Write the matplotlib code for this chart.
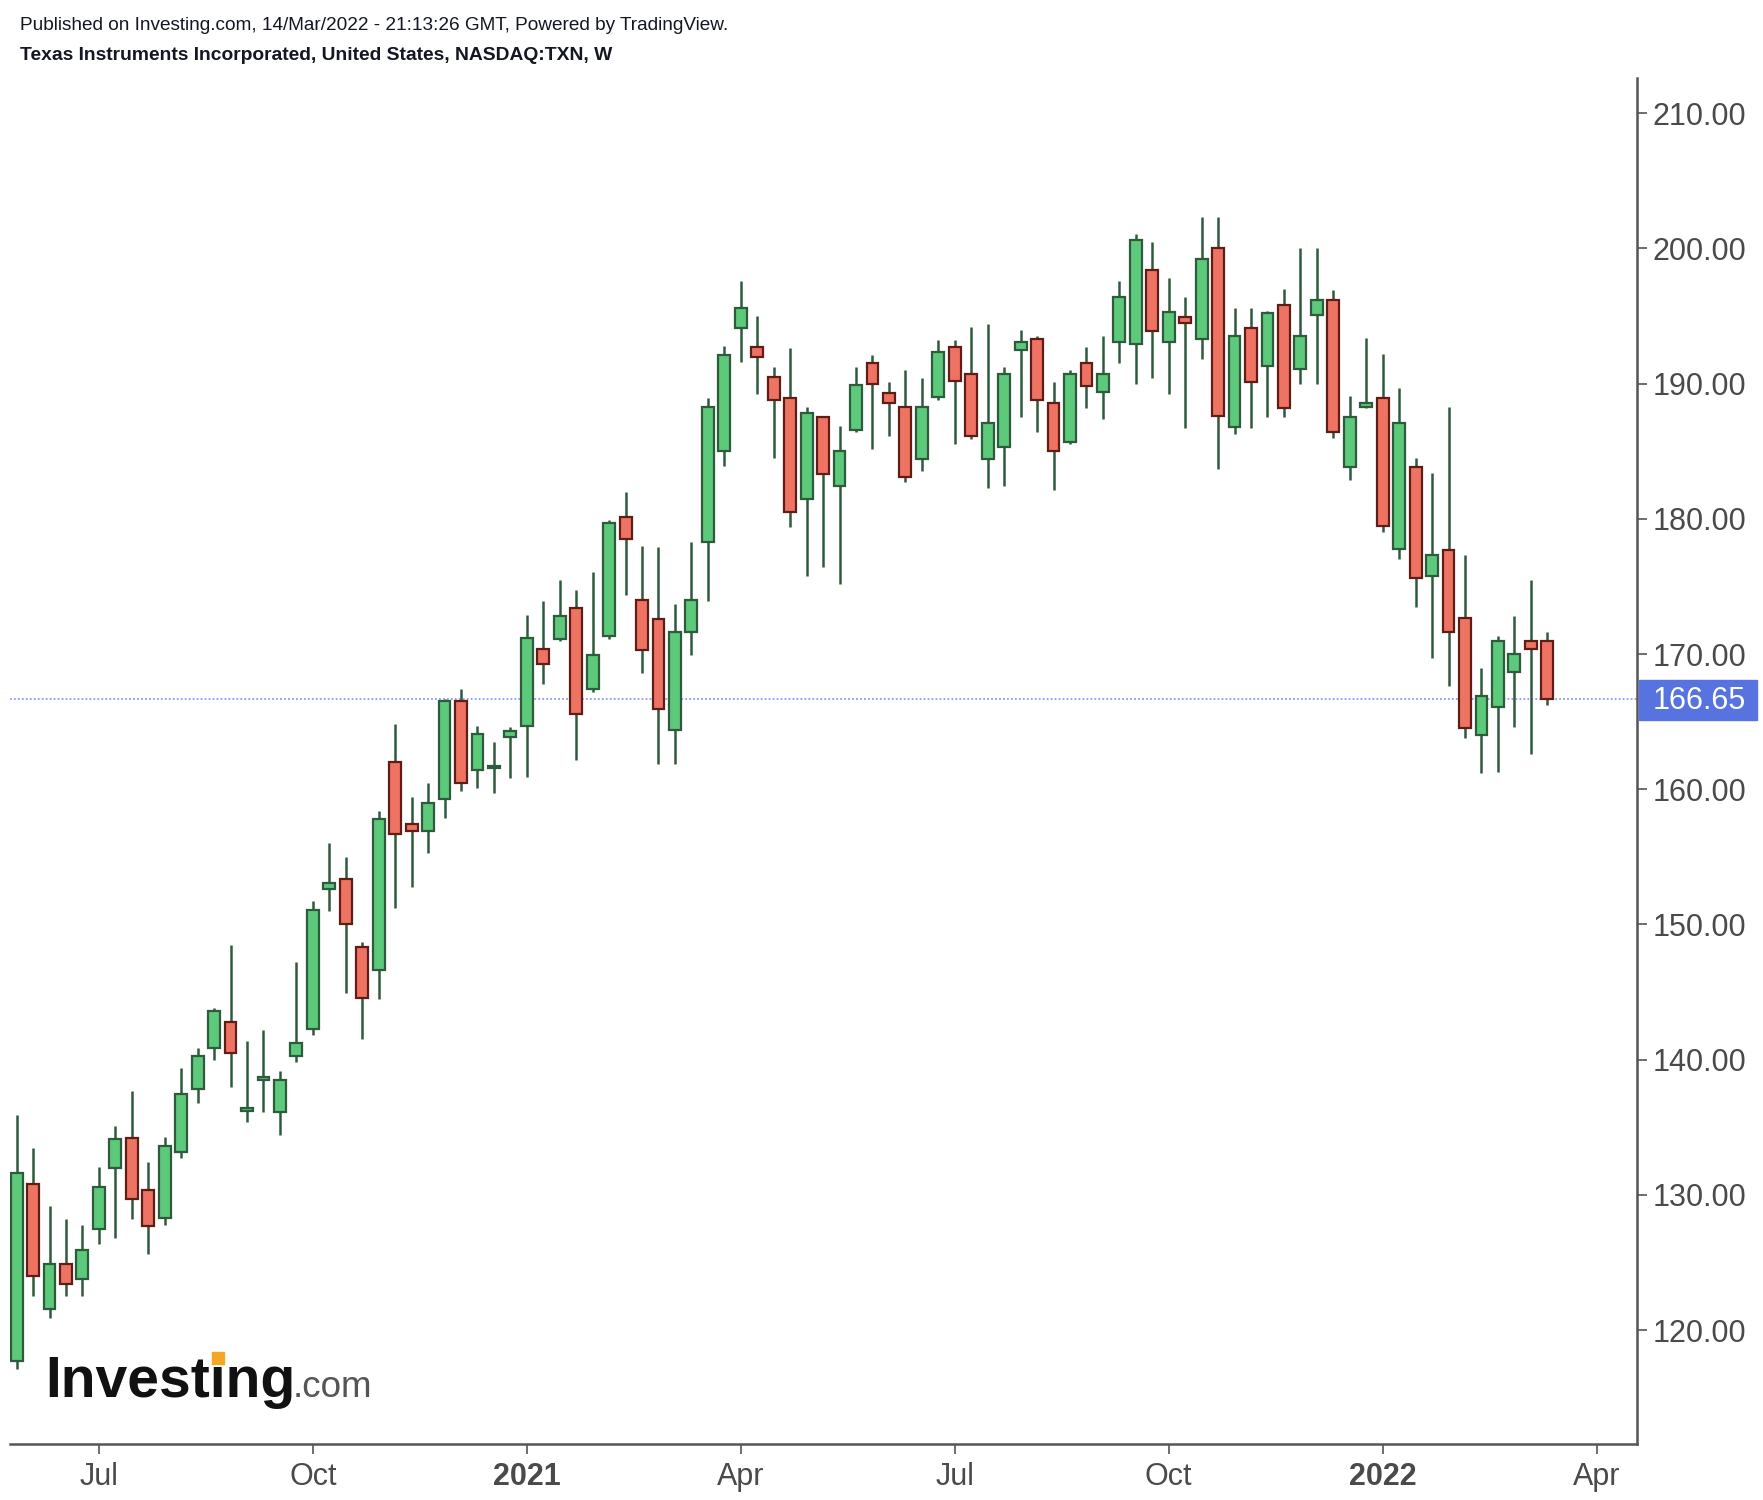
import matplotlib.pyplot as plt
import matplotlib.transforms as mtransforms
from matplotlib.patches import Rectangle
import numpy as np
import pandas as pd

plt.rcParams['font.family'] = ['Liberation Sans', 'DejaVu Sans']

# weekly bars of TXN, first bar = week of 1 Jun 2020
first_week = "2020-06-01"

opens = [117.7, 130.8, 121.6, 124.9, 123.8, 127.5, 132.0, 134.2, 130.4, 128.3,
         133.2, 137.8, 140.9, 142.8, 136.2, 138.5, 136.1, 140.3, 142.3, 152.6,
         153.4, 148.3, 146.6, 162.0, 157.4, 156.9, 159.3, 166.5, 161.4, 161.6,
         163.9, 164.7, 170.4, 171.1, 173.4, 167.4, 171.3, 180.1, 174.0, 172.6,
         164.4, 171.6, 178.3, 185.0, 194.1, 192.7, 190.5, 188.9, 181.5, 187.5,
         182.4, 186.6, 191.5, 189.3, 188.3, 184.4, 189.0, 192.7, 190.7, 184.4,
         185.3, 192.5, 193.3, 188.6, 185.7, 191.5, 189.4, 193.1, 192.9, 198.4,
         193.1, 194.9, 193.3, 200.0, 186.8, 194.1, 191.3, 195.8, 191.1, 195.1,
         196.2, 183.8, 188.3, 188.9, 177.8, 183.8, 175.8, 177.7, 172.7, 164.0,
         166.1, 168.7, 171.0, 171.0]
highs = [135.9, 133.5, 129.2, 128.2, 127.8, 132.1, 135.1, 137.7, 132.4, 134.3,
         139.4, 140.9, 143.8, 148.5, 141.4, 142.2, 139.2, 147.2, 151.7, 156.0,
         155.0, 148.7, 158.4, 164.8, 159.4, 160.5, 166.7, 167.4, 164.7, 163.5,
         164.6, 172.9, 173.9, 175.5, 174.7, 176.1, 179.9, 182.0, 178.0, 177.9,
         173.7, 178.3, 188.9, 192.8, 197.6, 195.0, 191.2, 192.6, 188.3, 187.6,
         186.9, 191.2, 192.1, 190.1, 191.0, 190.4, 193.2, 193.2, 194.2, 194.4,
         191.2, 194.0, 193.5, 190.1, 191.0, 192.7, 193.5, 197.6, 201.1, 200.5,
         197.8, 196.4, 202.3, 202.3, 195.6, 195.6, 195.4, 197.0, 200.0, 200.0,
         196.9, 189.1, 193.4, 192.2, 189.7, 184.5, 183.4, 188.3, 177.3, 169.0,
         171.3, 172.8, 175.5, 171.6]
lows = [117.1, 122.5, 120.9, 122.5, 122.5, 126.4, 126.8, 128.2, 125.6, 127.8,
        132.7, 136.8, 140.0, 138.0, 135.4, 136.1, 134.4, 139.8, 141.8, 151.0,
        144.9, 141.5, 144.5, 151.2, 152.8, 155.3, 157.9, 159.9, 160.1, 159.7,
        160.8, 160.9, 167.8, 171.0, 162.2, 167.2, 171.1, 174.4, 168.6, 161.9,
        161.9, 169.9, 173.9, 183.9, 191.6, 189.2, 184.5, 179.4, 175.8, 176.4,
        175.2, 186.4, 185.2, 186.1, 182.7, 183.5, 188.8, 185.5, 185.9, 182.3,
        182.4, 187.5, 186.4, 182.1, 185.5, 188.2, 187.4, 191.5, 190.0, 190.4,
        189.2, 186.7, 191.8, 183.7, 186.3, 186.7, 187.5, 187.5, 190.0, 190.0,
        186.0, 182.9, 188.2, 179.0, 177.0, 173.5, 169.7, 167.6, 163.8, 161.2,
        161.3, 164.6, 162.6, 166.2]
closes = [131.6, 124.0, 124.9, 123.4, 125.9, 130.6, 134.1, 129.7, 127.7, 133.6,
          137.5, 140.3, 143.6, 140.5, 136.4, 138.7, 138.5, 141.2, 151.1, 153.1,
          150.0, 144.6, 157.8, 156.7, 156.9, 159.0, 166.5, 160.5, 164.1, 161.7,
          164.3, 171.2, 169.3, 172.8, 165.6, 169.9, 179.7, 178.5, 170.3, 165.9,
          171.6, 174.0, 188.3, 192.1, 195.6, 192.0, 188.8, 180.5, 187.8, 183.3,
          185.0, 189.9, 190.0, 188.6, 183.1, 188.3, 192.3, 190.2, 186.1, 187.1,
          190.7, 193.1, 188.8, 185.0, 190.7, 189.8, 190.7, 196.4, 200.6, 193.9,
          195.3, 194.5, 199.2, 187.6, 193.5, 190.1, 195.2, 188.2, 193.5, 196.2,
          186.4, 187.5, 188.6, 179.5, 187.1, 175.6, 177.3, 171.6, 164.5, 166.9,
          171.0, 170.0, 170.4, 166.65]

last_price = 166.65
price_ticks = [120, 130, 140, 150, 160, 170, 180, 190, 200, 210]

W, H = 1763, 1500
green_fill = "#5cc97b"
red_fill = "#ef7363"
wick_col = "#2f5b3d"
red_edge = "#5e1d17"

o = np.array(opens)
c = np.array(closes)
n = len(o)
x = np.arange(n)
up = c >= o

# weekly dates, a few extra weeks to label the empty space on the right
dates = pd.date_range(first_week, periods=n + 6, freq="W-MON")
tick_pos, tick_lab = [], []
for i in range(1, len(dates)):
    d = dates[i]
    if d.month != dates[i - 1].month and d.month in (1, 4, 7, 10):
        tick_pos.append(i)
        tick_lab.append(str(d.year) if d.month == 1 else d.strftime("%b"))

fig = plt.figure(figsize=(W / 100, H / 100), dpi=100)
ax = fig.add_axes([10 / W, 1 - 1444 / H, 1627 / W, 1366 / H])

# wicks then bodies
ax.vlines(x, lows, highs, color=wick_col, lw=1.8, zorder=2)
body_bottom = np.minimum(o, c)
body_h = np.maximum(np.abs(c - o), 0.12)
ax.bar(x, body_h, bottom=body_bottom, width=0.72,
       color=np.where(up, green_fill, red_fill),
       edgecolor=np.where(up, wick_col, red_edge),
       linewidth=1.6, zorder=3)

# last price line and label
ax.axhline(last_price, color="#8a9cf2", lw=1.3, ls=(0, (1, 1.2)), zorder=1)
blend = mtransforms.blended_transform_factory(ax.transAxes, ax.transData)
ax.add_patch(Rectangle((1.0012, last_price - 1.5), 0.0725, 2.9,
                       transform=blend, color="#5673e0", clip_on=False, zorder=5))
ax.text(1.0095, last_price - 0.1, "%.2f" % last_price, transform=blend,
        color="white", fontsize=22, va="center", ha="left", zorder=6)

ax.set_xlim(-0.4, 98.45)
ax.set_ylim(111.58, 212.6)

for side in ["top", "left"]:
    ax.spines[side].set_visible(False)
for side in ["bottom", "right"]:
    ax.spines[side].set_color("#555555")
    ax.spines[side].set_linewidth(1.8)

ax.yaxis.tick_right()
ax.set_yticks(price_ticks)
ax.set_yticklabels(["%.2f" % p for p in price_ticks])
ax.tick_params(axis="y", length=7, width=1.2, color="#555555",
               labelsize=22, labelcolor="#4a4a4a", pad=4)

ax.set_xticks(tick_pos)
ax.set_xticklabels(tick_lab)
ax.tick_params(axis="x", length=7, width=1.2, color="#555555",
               labelsize=22, labelcolor="#4a4a4a", pad=6)
for lab in ax.get_xticklabels():
    if lab.get_text().isdigit():
        lab.set_fontweight("bold")

# header
fig.text(20 / W, 1 - 25 / H,
         "Published on Investing.com, 14/Mar/2022 - 21:13:26 GMT, Powered by TradingView.",
         fontsize=13.7, va="center", color="#131722")
fig.text(20 / W, 1 - 56 / H,
         "Texas Instruments Incorporated, United States, NASDAQ:TXN, W",
         fontsize=13.9, va="center", color="#131722", fontweight="bold")

# watermark logo, the dot of the i is orange
logo_y = 1 - 1397 / H
logo_x = 45 / W
fig.text(logo_x, logo_y, "Invest\u0131ng", fontsize=41, fontweight="bold",
         color="#111111", va="baseline")
fig.text(293 / W, logo_y, ".com", fontsize=26.5, color="#555555", va="baseline")

renderer = fig.canvas.get_renderer()
probe_a = fig.text(logo_x, logo_y, "Invest", fontsize=41, fontweight="bold", alpha=0)
probe_b = fig.text(logo_x, logo_y, "Invest\u0131", fontsize=41, fontweight="bold", alpha=0)
xa = probe_a.get_window_extent(renderer).x1
xb = probe_b.get_window_extent(renderer).x1
dot_cx = (xa + xb) / 2
fig.patches.append(Rectangle(((dot_cx - 6) / W, 1 - 1364 / H), 12 / W, 12 / H,
                             transform=fig.transFigure, color="#f5a623"))

fig.savefig("out.png", dpi=100)
